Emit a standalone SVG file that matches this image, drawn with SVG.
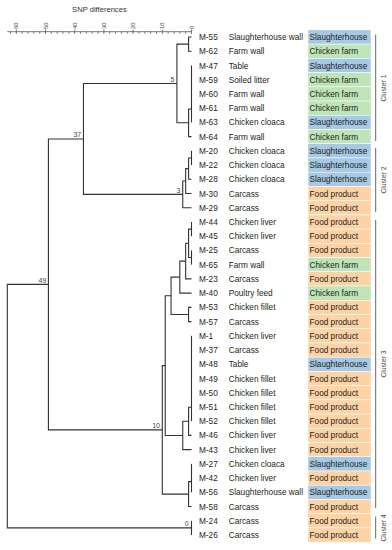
<svg xmlns="http://www.w3.org/2000/svg" width="392" height="550" viewBox="0 0 392 550">
<style>
text{font-family:"Liberation Sans",Arial,Helvetica,sans-serif;}
.t{font-size:8.25px;fill:#231f20;}
.s{fill:#a6c9e5;stroke:#ffffff;stroke-width:0.5;}
.f{fill:#bfe4b8;stroke:#ffffff;stroke-width:0.5;}
.p{fill:#fdd3a6;stroke:#ffffff;stroke-width:0.5;}
.tree{fill:none;stroke:#333333;stroke-width:1.1;}
.nl{font-size:7px;fill:#444444;text-anchor:end;}
.ax{fill:none;stroke:#555555;stroke-width:0.8;}
.tl{font-size:6px;fill:#444444;}
.bar{fill:none;stroke:#555555;stroke-width:0.9;}
.cl{font-size:6.8px;fill:#444444;text-anchor:middle;}
</style>
<rect width="392" height="550" fill="#ffffff"/>
<g id="axis">
<text x="99.4" y="12" text-anchor="middle" style="font-size:7.6px;fill:#333333">SNP differences</text>
<path class="ax" d="M7.3 31.7 H191.5"/>
<path class="ax" d="M16.3 29.5V34 M45.5 29.5V34 M74.7 29.5V34 M103.9 29.5V34 M133.1 29.5V34 M162.3 29.5V34 M191.5 29.5V34"/>
<path class="ax" d="M10.5 31.7V33.7 M22.1 31.7V33.7 M28 31.7V33.7 M33.8 31.7V33.7 M39.7 31.7V33.7 M51.3 31.7V33.7 M57.2 31.7V33.7 M63 31.7V33.7 M68.9 31.7V33.7 M80.5 31.7V33.7 M86.4 31.7V33.7 M92.2 31.7V33.7 M98.1 31.7V33.7 M109.7 31.7V33.7 M115.6 31.7V33.7 M121.4 31.7V33.7 M127.3 31.7V33.7 M138.9 31.7V33.7 M144.8 31.7V33.7 M150.6 31.7V33.7 M156.5 31.7V33.7 M168.1 31.7V33.7 M174 31.7V33.7 M179.8 31.7V33.7 M185.7 31.7V33.7"/>
<g class="tl" dominant-baseline="central">
<text transform="translate(16.3,29) rotate(-90)">60</text>
<text transform="translate(45.5,29) rotate(-90)">50</text>
<text transform="translate(74.7,29) rotate(-90)">40</text>
<text transform="translate(103.9,29) rotate(-90)">30</text>
<text transform="translate(133.1,29) rotate(-90)">20</text>
<text transform="translate(162.3,29) rotate(-90)">10</text>
<text transform="translate(191.5,29) rotate(-90)">0</text>
</g>
</g>
<g id="connectors">
<path class="tree" d="M191.5 37 H188.58 V51.23 H191.5"/>
<path class="tree" d="M191.5 65.46 V122.37"/>
<path class="tree" d="M191.5 109.04 H188.58 V136.6 H191.5"/>
<path class="tree" d="M188.58 44.12 H176.9 V122.82 H188.58"/>
<path class="tree" d="M191.5 150.83 V165.06"/>
<path class="tree" d="M191.5 157.95 H188.58 V179.29 H191.5"/>
<path class="tree" d="M188.58 168.62 H185.66 V193.52 H191.5"/>
<path class="tree" d="M185.66 181.07 H182.74 V207.75 H191.5"/>
<path class="tree" d="M176.9 83.47 H83.46 V194.41 H182.74"/>
<path class="tree" d="M191.5 221.98 V236.21"/>
<path class="tree" d="M191.5 250.44 V264.66"/>
<path class="tree" d="M191.5 229.1 H188.58 V257.55 H191.5"/>
<path class="tree" d="M188.58 243.32 H185.66 V278.89 H191.5"/>
<path class="tree" d="M185.66 261.11 H179.82 V293.12 H191.5"/>
<path class="tree" d="M191.5 307.35 H188.58 V321.58 H191.5"/>
<path class="tree" d="M179.82 277.11 H171.06 V314.47 H188.58"/>
<path class="tree" d="M191.5 335.81 V421.18"/>
<path class="tree" d="M191.5 407.18 H188.58 V435.41 H191.5"/>
<path class="tree" d="M188.58 421.3 H182.74 V449.64 H191.5"/>
<path class="tree" d="M171.06 295.79 H165.22 V435.47 H182.74"/>
<path class="tree" d="M191.5 463.87 V492.33"/>
<path class="tree" d="M191.5 481.66 H188.58 V506.56 H191.5"/>
<path class="tree" d="M165.22 365.63 H162.3 V494.11 H188.58"/>
<path class="tree" d="M83.46 138.94 H48.42 V429.87 H162.3"/>
<path class="tree" d="M191.5 520.79 V535.02"/>
<path class="tree" d="M48.42 284.41 H7.3 V527.91 H191.5"/>
<text class="nl" x="174.4" y="81.7">5</text>
<text class="nl" x="81.2" y="137.1">37</text>
<text class="nl" x="180.3" y="192.6">3</text>
<text class="nl" x="46.3" y="282.6">49</text>
<text class="nl" x="160" y="428.1">10</text>
<text class="nl" x="188.6" y="526.1">0</text>
</g>
<g id="M-55"><rect class="s" x="308" y="29.89" width="63" height="14.23"/><text class="t" x="199" y="40">M-55</text><text class="t" x="228.7" y="40">Slaughterhouse wall</text><text class="t" x="309.5" y="40">Slaughterhouse</text></g>
<g id="M-62"><rect class="f" x="308" y="44.12" width="63" height="14.23"/><text class="t" x="199" y="54.2">M-62</text><text class="t" x="228.7" y="54.2">Farm wall</text><text class="t" x="309.5" y="54.2">Chicken farm</text></g>
<g id="M-47"><rect class="s" x="308" y="58.35" width="63" height="14.23"/><text class="t" x="199" y="68.5">M-47</text><text class="t" x="228.7" y="68.5">Table</text><text class="t" x="309.5" y="68.5">Slaughterhouse</text></g>
<g id="M-59"><rect class="f" x="308" y="72.58" width="63" height="14.23"/><text class="t" x="199" y="82.7">M-59</text><text class="t" x="228.7" y="82.7">Soiled litter</text><text class="t" x="309.5" y="82.7">Chicken farm</text></g>
<g id="M-60"><rect class="f" x="308" y="86.81" width="63" height="14.23"/><text class="t" x="199" y="96.9">M-60</text><text class="t" x="228.7" y="96.9">Farm wall</text><text class="t" x="309.5" y="96.9">Chicken farm</text></g>
<g id="M-61"><rect class="f" x="308" y="101.04" width="63" height="14.23"/><text class="t" x="199" y="111.1">M-61</text><text class="t" x="228.7" y="111.1">Farm wall</text><text class="t" x="309.5" y="111.1">Chicken farm</text></g>
<g id="M-63"><rect class="s" x="308" y="115.26" width="63" height="14.23"/><text class="t" x="199" y="125.4">M-63</text><text class="t" x="228.7" y="125.4">Chicken cloaca</text><text class="t" x="309.5" y="125.4">Slaughterhouse</text></g>
<g id="M-64"><rect class="f" x="308" y="129.49" width="63" height="14.23"/><text class="t" x="199" y="139.6">M-64</text><text class="t" x="228.7" y="139.6">Farm wall</text><text class="t" x="309.5" y="139.6">Chicken farm</text></g>
<g id="M-20"><rect class="s" x="308" y="143.72" width="63" height="14.23"/><text class="t" x="199" y="153.8">M-20</text><text class="t" x="228.7" y="153.8">Chicken cloaca</text><text class="t" x="309.5" y="153.8">Slaughterhouse</text></g>
<g id="M-22"><rect class="s" x="308" y="157.95" width="63" height="14.23"/><text class="t" x="199" y="168.1">M-22</text><text class="t" x="228.7" y="168.1">Chicken cloaca</text><text class="t" x="309.5" y="168.1">Slaughterhouse</text></g>
<g id="M-28"><rect class="s" x="308" y="172.18" width="63" height="14.23"/><text class="t" x="199" y="182.3">M-28</text><text class="t" x="228.7" y="182.3">Chicken cloaca</text><text class="t" x="309.5" y="182.3">Slaughterhouse</text></g>
<g id="M-30"><rect class="p" x="308" y="186.41" width="63" height="14.23"/><text class="t" x="199" y="196.5">M-30</text><text class="t" x="228.7" y="196.5">Carcass</text><text class="t" x="309.5" y="196.5">Food product</text></g>
<g id="M-29"><rect class="p" x="308" y="200.64" width="63" height="14.23"/><text class="t" x="199" y="210.7">M-29</text><text class="t" x="228.7" y="210.7">Carcass</text><text class="t" x="309.5" y="210.7">Food product</text></g>
<g id="M-44"><rect class="p" x="308" y="214.87" width="63" height="14.23"/><text class="t" x="199" y="225">M-44</text><text class="t" x="228.7" y="225">Chicken liver</text><text class="t" x="309.5" y="225">Food product</text></g>
<g id="M-45"><rect class="p" x="308" y="229.1" width="63" height="14.23"/><text class="t" x="199" y="239.2">M-45</text><text class="t" x="228.7" y="239.2">Chicken liver</text><text class="t" x="309.5" y="239.2">Food product</text></g>
<g id="M-25"><rect class="p" x="308" y="243.33" width="63" height="14.23"/><text class="t" x="199" y="253.4">M-25</text><text class="t" x="228.7" y="253.4">Carcass</text><text class="t" x="309.5" y="253.4">Food product</text></g>
<g id="M-65"><rect class="f" x="308" y="257.55" width="63" height="14.23"/><text class="t" x="199" y="267.7">M-65</text><text class="t" x="228.7" y="267.7">Farm wall</text><text class="t" x="309.5" y="267.7">Chicken farm</text></g>
<g id="M-23"><rect class="p" x="308" y="271.78" width="63" height="14.23"/><text class="t" x="199" y="281.9">M-23</text><text class="t" x="228.7" y="281.9">Carcass</text><text class="t" x="309.5" y="281.9">Food product</text></g>
<g id="M-40"><rect class="f" x="308" y="286.01" width="63" height="14.23"/><text class="t" x="199" y="296.1">M-40</text><text class="t" x="228.7" y="296.1">Poultry feed</text><text class="t" x="309.5" y="296.1">Chicken farm</text></g>
<g id="M-53"><rect class="p" x="308" y="300.24" width="63" height="14.23"/><text class="t" x="199" y="310.4">M-53</text><text class="t" x="228.7" y="310.4">Chicken fillet</text><text class="t" x="309.5" y="310.4">Food product</text></g>
<g id="M-57"><rect class="p" x="308" y="314.47" width="63" height="14.23"/><text class="t" x="199" y="324.6">M-57</text><text class="t" x="228.7" y="324.6">Carcass</text><text class="t" x="309.5" y="324.6">Food product</text></g>
<g id="M-1"><rect class="p" x="308" y="328.7" width="63" height="14.23"/><text class="t" x="199" y="338.8">M-1</text><text class="t" x="228.7" y="338.8">Chicken liver</text><text class="t" x="309.5" y="338.8">Food product</text></g>
<g id="M-37"><rect class="p" x="308" y="342.93" width="63" height="14.23"/><text class="t" x="199" y="353">M-37</text><text class="t" x="228.7" y="353">Carcass</text><text class="t" x="309.5" y="353">Food product</text></g>
<g id="M-48"><rect class="s" x="308" y="357.16" width="63" height="14.23"/><text class="t" x="199" y="367.3">M-48</text><text class="t" x="228.7" y="367.3">Table</text><text class="t" x="309.5" y="367.3">Slaughterhouse</text></g>
<g id="M-49"><rect class="p" x="308" y="371.39" width="63" height="14.23"/><text class="t" x="199" y="381.5">M-49</text><text class="t" x="228.7" y="381.5">Chicken fillet</text><text class="t" x="309.5" y="381.5">Food product</text></g>
<g id="M-50"><rect class="p" x="308" y="385.62" width="63" height="14.23"/><text class="t" x="199" y="395.7">M-50</text><text class="t" x="228.7" y="395.7">Chicken fillet</text><text class="t" x="309.5" y="395.7">Food product</text></g>
<g id="M-51"><rect class="p" x="308" y="399.84" width="63" height="14.23"/><text class="t" x="199" y="410">M-51</text><text class="t" x="228.7" y="410">Chicken fillet</text><text class="t" x="309.5" y="410">Food product</text></g>
<g id="M-52"><rect class="p" x="308" y="414.07" width="63" height="14.23"/><text class="t" x="199" y="424.2">M-52</text><text class="t" x="228.7" y="424.2">Chicken fillet</text><text class="t" x="309.5" y="424.2">Food product</text></g>
<g id="M-46"><rect class="p" x="308" y="428.3" width="63" height="14.23"/><text class="t" x="199" y="438.4">M-46</text><text class="t" x="228.7" y="438.4">Chicken liver</text><text class="t" x="309.5" y="438.4">Food product</text></g>
<g id="M-43"><rect class="p" x="308" y="442.53" width="63" height="14.23"/><text class="t" x="199" y="452.6">M-43</text><text class="t" x="228.7" y="452.6">Chicken liver</text><text class="t" x="309.5" y="452.6">Food product</text></g>
<g id="M-27"><rect class="s" x="308" y="456.76" width="63" height="14.23"/><text class="t" x="199" y="466.9">M-27</text><text class="t" x="228.7" y="466.9">Chicken cloaca</text><text class="t" x="309.5" y="466.9">Slaughterhouse</text></g>
<g id="M-42"><rect class="p" x="308" y="470.99" width="63" height="14.23"/><text class="t" x="199" y="481.1">M-42</text><text class="t" x="228.7" y="481.1">Chicken liver</text><text class="t" x="309.5" y="481.1">Food product</text></g>
<g id="M-56"><rect class="s" x="308" y="485.22" width="63" height="14.23"/><text class="t" x="199" y="495.3">M-56</text><text class="t" x="228.7" y="495.3">Slaughterhouse wall</text><text class="t" x="309.5" y="495.3">Slaughterhouse</text></g>
<g id="M-58"><rect class="p" x="308" y="499.45" width="63" height="14.23"/><text class="t" x="199" y="509.6">M-58</text><text class="t" x="228.7" y="509.6">Carcass</text><text class="t" x="309.5" y="509.6">Food product</text></g>
<g id="M-24"><rect class="p" x="308" y="513.68" width="63" height="14.23"/><text class="t" x="199" y="523.8">M-24</text><text class="t" x="228.7" y="523.8">Carcass</text><text class="t" x="309.5" y="523.8">Food product</text></g>
<g id="M-26"><rect class="p" x="308" y="527.91" width="63" height="14.23"/><text class="t" x="199" y="538">M-26</text><text class="t" x="228.7" y="538">Carcass</text><text class="t" x="309.5" y="538">Food product</text></g>
<g id="cluster-1"><path class="bar" d="M375.7 34.5 V141"/><text class="cl" transform="translate(383.5,88) rotate(-90)" dominant-baseline="central">Cluster 1</text></g>
<g id="cluster-2"><path class="bar" d="M375.7 148 V212"/><text class="cl" transform="translate(383.5,180) rotate(-90)" dominant-baseline="central">Cluster 2</text></g>
<g id="cluster-3"><path class="bar" d="M375.7 220 V508"/><text class="cl" transform="translate(383.5,364) rotate(-90)" dominant-baseline="central">Cluster 3</text></g>
<g id="cluster-4"><path class="bar" d="M375.7 516.5 V538.5"/><text class="cl" transform="translate(383.5,528) rotate(-90)" dominant-baseline="central">Cluster 4</text></g>
</svg>
